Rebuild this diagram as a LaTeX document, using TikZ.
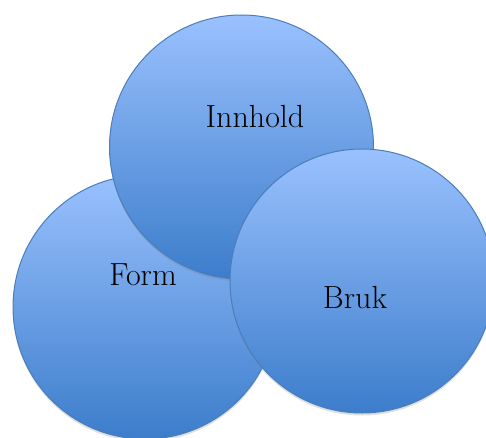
\documentclass[tikz,border=0pt]{standalone}
\usetikzlibrary{shadows}
\definecolor{lysblaa}{HTML}{9AC1FE}
\definecolor{moerkblaa}{HTML}{3C7DCB}
\definecolor{kant}{HTML}{4A7EBB}
\tikzset{
	kule/.style={circle,draw=kant,line width=1pt,top color=lysblaa,bottom color=moerkblaa,
		minimum size=264pt,inner sep=0pt,
		drop shadow={opacity=0.25,shadow xshift=0pt,shadow yshift=-2.5pt}},
	ord/.style={font=\fontsize{32}{38}\selectfont,text=black}
}
\begin{document}
\begin{tikzpicture}[x=1pt,y=1pt]
	\useasboundingbox (0,0) rectangle (486,437);

	\node[kule] (form) at (145,130) {};
	\node[kule] (innhold) at (241.5,290) {};
	\node[kule] (bruk) at (362,156) {};

	\node[ord] (formtekst) at (143,162) {Form};
	\node[ord] (innholdtekst) at (255,320) {Innhold};
	\node[ord] (bruktekst) at (355,139) {Bruk};
\end{tikzpicture}
\end{document}
